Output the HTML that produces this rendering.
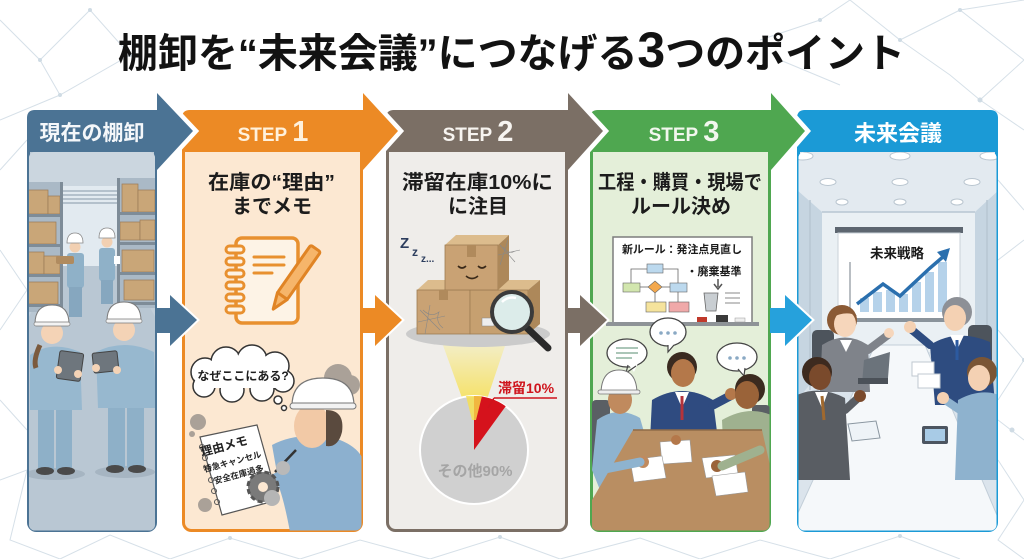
<!DOCTYPE html>
<html><head><meta charset="utf-8"><style>
html,body{margin:0;padding:0;background:#fff;width:1024px;height:559px;overflow:hidden}
svg{display:block}
text{font-family:"Liberation Sans","Noto Sans CJK JP",sans-serif}
</style></head><body>
<svg width="1024" height="559" viewBox="0 0 1024 559" xmlns="http://www.w3.org/2000/svg">
<defs>
<clipPath id="c0"><rect x="29" y="152" width="126" height="378.5" rx="6"/></clipPath>
<clipPath id="c1"><rect x="183.5" y="152" width="178" height="378.5" rx="6"/></clipPath>
<clipPath id="c2"><rect x="387.5" y="152" width="179" height="378.5" rx="6"/></clipPath>
<clipPath id="c3"><rect x="591.5" y="152" width="178" height="378.5" rx="6"/></clipPath>
<clipPath id="c4"><rect x="798.5" y="152" width="198" height="378.5" rx="6"/></clipPath>
<linearGradient id="cone" x1="0" y1="0" x2="0" y2="1"><stop offset="0" stop-color="#f3efcf"/><stop offset="1" stop-color="#f7dc35"/></linearGradient>
<linearGradient id="bg0" x1="0" y1="0" x2="0" y2="1"><stop offset="0" stop-color="#c7d3dd"/><stop offset="1" stop-color="#b9c8d4"/></linearGradient>
</defs>
<rect width="1024" height="559" fill="#fff"/>
<!-- background network -->
<g stroke="#d6e0e8" stroke-width="1" fill="none">
<path d="M0,20 L40,60 L90,10 L130,55 L60,95 L0,120"/>
<path d="M40,60 L60,95 M0,170 L27,140 M0,250 L27,290 L0,330 M0,400 L27,430 M0,480 L27,470 L10,540 L60,559"/>
<path d="M60,559 L110,535 L170,559 L230,538 L300,559 L360,540 L430,559 L500,537 L560,559 L640,538 L700,559 L760,540 L830,559 L900,536 L960,559"/>
<path d="M850,0 L900,40 L960,10 L1024,60 L980,100 L1024,130 M900,40 L950,75 L980,100 M1110,0 L1024,20 M960,10 L1024,0"/>
<path d="M998,180 L1024,210 M998,260 L1024,240 M998,330 L1024,360 L998,400 M998,460 L1024,500 L998,540 L1024,559 M998,420 L1024,440"/>
<path d="M760,40 L820,20 L850,0 M780,60 L840,85"/>
</g>
<g fill="#cfdbe4">
<circle cx="40" cy="60" r="2"/><circle cx="90" cy="10" r="2"/><circle cx="130" cy="55" r="2"/><circle cx="60" cy="95" r="2"/><circle cx="900" cy="40" r="2"/><circle cx="980" cy="100" r="2.5"/><circle cx="960" cy="10" r="2"/><circle cx="1024" cy="360" r="2"/><circle cx="500" cy="537" r="2"/><circle cx="900" cy="536" r="2"/><circle cx="230" cy="538" r="2"/><circle cx="820" cy="20" r="2"/><circle cx="1012" cy="430" r="2.5"/>
</g>

<!-- Title -->
<text x="118" y="67" font-size="40" font-weight="700" fill="#121212" textLength="787" lengthAdjust="spacing">棚卸を“未来会議”につなげる<tspan font-size="50">3</tspan>つのポイント</text>

<!-- ===== Panel 4 ===== -->
<rect x="798.5" y="111.5" width="198" height="419" rx="8" fill="#dfe7ee" stroke="#1b9ad6" stroke-width="3"/>
<path d="M797,152 V118 Q797,110 805,110 H990 Q998,110 998,118 V152 Z" fill="#1b9ad6"/>
<text x="898" y="141" text-anchor="middle" font-size="22" font-weight="700" fill="#fff">未来会議</text>
<g clip-path="url(#c4)">
<rect x="797" y="152" width="202" height="380" fill="#dbe4ec"/>
<polygon points="797,152 999,152 999,190 975,212 822,212 797,190" fill="#e3eaf0"/>
<polygon points="797,190 822,212 822,370 797,400" fill="#c6d5e1"/>
<polygon points="999,190 975,212 975,370 999,400" fill="#c6d5e1"/>
<rect x="822" y="212" width="153" height="140" fill="#eaf0f4"/>
<g stroke="#b7c6d2" stroke-width="1.5"><line x1="822" y1="212" x2="975" y2="212"/><line x1="810" y1="200" x2="810" y2="390"/><line x1="987" y1="200" x2="987" y2="390"/></g>
<g fill="#fff" stroke="#b9c5cf" stroke-width="1">
<ellipse cx="803" cy="156" rx="10" ry="4"/><ellipse cx="900" cy="156" rx="10" ry="4"/><ellipse cx="990" cy="156" rx="10" ry="4"/>
<ellipse cx="828" cy="182" rx="8" ry="3.5"/><ellipse cx="900" cy="182" rx="8" ry="3.5"/><ellipse cx="972" cy="182" rx="8" ry="3.5"/>
<ellipse cx="842" cy="202" rx="6" ry="3"/><ellipse cx="900" cy="202" rx="6" ry="3"/><ellipse cx="957" cy="202" rx="6" ry="3"/>
</g>
<rect x="835" y="227" width="128" height="6" fill="#5d6670"/>
<rect x="838" y="233" width="122" height="86" fill="#fff" stroke="#c9d2d9"/>
<rect x="835" y="318" width="128" height="4" fill="#8a939b"/>
<text x="897" y="258" text-anchor="middle" font-size="13.5" font-weight="700" fill="#1a1a1a">未来戦略</text>
<line x1="850" y1="262" x2="850" y2="312" stroke="#8a939b" stroke-width="1.2"/>
<g fill="#b5d2ea"><rect x="860" y="298" width="9" height="14"/><rect x="873" y="292" width="9" height="20"/><rect x="886" y="290" width="9" height="22"/><rect x="899" y="294" width="9" height="18"/><rect x="912" y="282" width="9" height="30"/><rect x="925" y="272" width="9" height="40"/><rect x="938" y="262" width="9" height="50"/></g>
<polyline points="857,304 883,284 900,296 930,268 944,256" fill="none" stroke="#2a6fae" stroke-width="3.5"/>
<polygon points="950,248 937,252 946,262" fill="#2a6fae"/>
<!-- table -->
<polygon points="875,345 925,345 999,520 999,532 797,532 797,515" fill="#f5f8fa" stroke="#c2ced8" stroke-width="1"/>
<!-- chairs -->
<rect x="812" y="330" width="22" height="40" rx="5" fill="#4d545c"/>
<rect x="968" y="325" width="24" height="40" rx="5" fill="#4d545c"/>
<!-- woman -->
<path d="M822,345 Q845,330 868,345 L870,392 L820,392 Z" fill="#7f838a"/>
<path d="M840,340 L846,352 L852,340 Z" fill="#fff"/>
<circle cx="842" cy="320" r="15" fill="#8b5a35"/>
<ellipse cx="845" cy="324" rx="11" ry="13" fill="#f6d6bb"/>
<path d="M831,315 Q843,300 857,316 Q846,310 831,318 Z" fill="#8b5a35"/>
<path d="M868,350 L888,335" stroke="#7f838a" stroke-width="8" stroke-linecap="round"/>
<circle cx="889" cy="333" r="5" fill="#f6d6bb"/>
<polygon points="864,360 890,352 888,378 862,384" fill="#6b737b"/>
<rect x="858" y="378" width="30" height="6" fill="#4b5158"/>
<!-- man top right -->
<path d="M930,345 Q957,328 990,342 L995,405 L935,405 Z" fill="#2e4c80"/>
<path d="M950,335 L957,350 L964,335 Z" fill="#fff"/><line x1="957" y1="340" x2="957" y2="360" stroke="#2c5aa0" stroke-width="3"/>
<circle cx="957" cy="312" r="15" fill="#8d9096"/>
<ellipse cx="955" cy="318" rx="11" ry="13" fill="#f4d1b3"/>
<path d="M930,345 L912,330" stroke="#2e4c80" stroke-width="8" stroke-linecap="round"/>
<circle cx="910" cy="327" r="6" fill="#f4d1b3"/>
<rect x="912" y="362" width="22" height="14" fill="#fff" stroke="#c0c8d0"/>
<rect x="918" y="374" width="22" height="14" fill="#fff" stroke="#c0c8d0"/>
<!-- man bottom left -->
<path d="M797,395 Q820,385 845,398 L850,480 L797,480 Z" fill="#595d63"/>
<path d="M815,392 L822,408 L828,392 Z" fill="#fff"/><line x1="822" y1="396" x2="824" y2="420" stroke="#a0692f" stroke-width="3"/>
<circle cx="817" cy="372" r="15" fill="#3d2a1f"/>
<ellipse cx="820" cy="377" rx="11" ry="13" fill="#7a4a2c"/>
<path d="M845,410 L858,398" stroke="#595d63" stroke-width="8" stroke-linecap="round"/>
<circle cx="860" cy="396" r="6" fill="#7a4a2c"/>
<polygon points="848,424 876,421 880,438 852,441" fill="#eef3f7" stroke="#8a96a0"/>
<!-- worker bottom right -->
<path d="M958,400 Q980,388 999,395 L999,480 L955,480 Z" fill="#8eb2ce"/>
<circle cx="982" cy="372" r="15" fill="#7a5535"/>
<ellipse cx="979" cy="378" rx="11" ry="13" fill="#f4d1b3"/>
<path d="M960,410 L945,400" stroke="#8eb2ce" stroke-width="8" stroke-linecap="round"/>
<circle cx="943" cy="398" r="6" fill="#f4d1b3"/>
<rect x="922" y="426" width="26" height="18" rx="2" fill="#4c5560"/><rect x="925" y="429" width="20" height="12" fill="#a8cbe6"/>
</g>

<!-- ===== Panel 3 ===== -->
<path d="M771,93 L805,131 L771,170 Z" fill="#fff" stroke="#fff" stroke-width="9"/>
<rect x="591.5" y="111.5" width="178" height="419" rx="8" fill="#e4efd9" stroke="#4fa750" stroke-width="3"/>
<path d="M590,152 V118 Q590,110 598,110 H771 V93 L805,131 L771,170 V152 Z" fill="#4fa750"/>
<text x="684" y="141" text-anchor="middle" fill="#f2f7ee" font-weight="700"><tspan font-size="19">STEP</tspan><tspan font-size="29" dx="5">3</tspan></text>
<text x="598" y="189" font-size="20" font-weight="700" fill="#1c1c1c" textLength="164" lengthAdjust="spacingAndGlyphs">工程・購買・現場で</text>
<text x="681" y="213" text-anchor="middle" font-size="20" font-weight="700" fill="#1c1c1c">ルール決め</text>
<g clip-path="url(#c3)">
<rect x="613" y="237" width="139" height="86" fill="#fff" stroke="#7d7d7d" stroke-width="1.5"/>
<rect x="606" y="322" width="153" height="4" fill="#8e9397"/>
<rect x="697" y="317" width="10" height="5" fill="#c0392b"/><rect x="716" y="315" width="12" height="7" fill="#3a3a3a"/><rect x="735" y="318" width="10" height="4" fill="#eee" stroke="#999" stroke-width=".5"/>
<text x="622" y="253" font-size="11" font-weight="700" fill="#1a1a1a" textLength="120" lengthAdjust="spacingAndGlyphs">新ルール：発注点見直し</text>
<text x="714" y="275" text-anchor="middle" font-size="11" font-weight="700" fill="#1a1a1a">・廃棄基準</text>
<g stroke="#666" stroke-width=".8" fill="none"><polyline points="647,269 631,269 631,283"/><polyline points="663,269 678,269 678,283"/><line x1="640" y1="287" x2="649" y2="287"/><line x1="661" y1="287" x2="670" y2="287"/><line x1="655" y1="293" x2="655" y2="302"/><line x1="678" y1="291" x2="678" y2="302"/></g>
<rect x="647" y="264" width="16" height="9" fill="#bcd9ee" stroke="#666" stroke-width=".6"/>
<rect x="623" y="283" width="17" height="9" fill="#d2e6ae" stroke="#666" stroke-width=".6"/>
<polygon points="655,281 662,287 655,293 648,287" fill="#f3a84d" stroke="#666" stroke-width=".6"/>
<rect x="670" y="283" width="17" height="9" fill="#bcd9ee" stroke="#666" stroke-width=".6"/>
<rect x="646" y="302" width="20" height="10" fill="#f5e39c" stroke="#666" stroke-width=".6"/>
<rect x="669" y="302" width="20" height="10" fill="#f0a9a9" stroke="#666" stroke-width=".6"/>
<path d="M718,279 V287 M714,284 L718,289 L722,284" stroke="#555" stroke-width="1.5" fill="none"/>
<path d="M704,293 h14 l-2,18 h-10 Z" fill="#c9ced2" stroke="#666" stroke-width=".8"/>
<g stroke="#888" stroke-width="1"><line x1="725" y1="293" x2="740" y2="293"/><line x1="725" y1="298" x2="740" y2="298"/><line x1="725" y1="303" x2="740" y2="303"/></g>
<!-- chairs -->
<rect x="592" y="400" width="18" height="70" rx="4" fill="#5a5f64"/>
<rect x="752" y="405" width="18" height="70" rx="4" fill="#5a5f64"/>
<!-- bubbles -->
<g fill="#fff" stroke="#444" stroke-width="1.3">
<ellipse cx="627" cy="353" rx="20" ry="14"/><ellipse cx="668" cy="332" rx="18" ry="14"/><ellipse cx="737" cy="357" rx="20" ry="14"/>
</g>
<g fill="#fff"><polygon points="628,364 634,372 638,363"/><polygon points="668,343 668,353 675,343"/><polygon points="738,368 743,376 746,367"/></g>
<path d="M628,365 L626,373 L636,366 M668,345 L668,352 L674,345 M738,369 L744,376 L745,368" stroke="#444" stroke-width="1.2" fill="none"/>
<g stroke="#8fb4a0" stroke-width="1.5"><line x1="616" y1="348" x2="638" y2="348"/><line x1="616" y1="353" x2="638" y2="353"/><line x1="616" y1="358" x2="632" y2="358"/></g>
<g fill="#8aa9c4"><circle cx="661" cy="333" r="1.8"/><circle cx="668" cy="333" r="1.8"/><circle cx="675" cy="333" r="1.8"/><circle cx="730" cy="358" r="1.8"/><circle cx="737" cy="358" r="1.8"/><circle cx="744" cy="358" r="1.8"/></g>
<!-- middle man -->
<path d="M652,400 Q682,382 713,400 L718,440 L650,440 Z" fill="#2f4b80"/>
<path d="M675,392 L682,408 L689,392 Z" fill="#fff"/><line x1="682" y1="396" x2="682" y2="420" stroke="#b5333a" stroke-width="3"/>
<circle cx="682" cy="367" r="15" fill="#3a2a20"/>
<ellipse cx="683" cy="373" rx="12" ry="14" fill="#b4784a"/>
<path d="M713,405 L730,396" stroke="#2f4b80" stroke-width="9" stroke-linecap="round"/>
<circle cx="731" cy="394" r="6" fill="#b4784a"/>
<!-- left worker -->
<path d="M597,420 Q618,405 640,418 L655,470 L600,490 L592,470 Z" fill="#8eb3cf"/>
<ellipse cx="620" cy="400" rx="12" ry="14" fill="#c08a5e"/>
<path d="M601,392 Q602,370 619,370 Q636,370 637,392 Z" fill="#fff" stroke="#777" stroke-width="1"/>
<rect x="598" y="390" width="42" height="4" rx="2" fill="#eee" stroke="#777" stroke-width=".8"/>
<!-- right man -->
<path d="M722,420 Q748,405 771,415 L771,490 L725,490 Z" fill="#9fb18f"/>
<circle cx="750" cy="389" r="15" fill="#3b2a1f"/>
<ellipse cx="747" cy="395" rx="12" ry="14" fill="#9a6339"/>
<!-- table -->
<polygon points="633,430 762,430 771,470 771,532 592,532 592,500" fill="#b98e62"/>
<line x1="633" y1="430" x2="762" y2="430" stroke="#8f6b47" stroke-width="1.5"/>
<polygon points="660,442 690,440 692,462 662,464" fill="#fff" stroke="#999" stroke-width=".6"/>
<polygon points="630,460 662,456 666,478 634,482" fill="#fff" stroke="#999" stroke-width=".6"/>
<polygon points="702,458 735,455 738,474 706,478" fill="#fff" stroke="#999" stroke-width=".6"/>
<polygon points="712,476 745,472 748,492 716,496" fill="#fff" stroke="#999" stroke-width=".6"/>
<circle cx="643" cy="462" r="6" fill="#c08a5e"/><circle cx="717" cy="466" r="6" fill="#9a6339"/><circle cx="676" cy="440" r="5" fill="#b4784a"/>
<path d="M600,470 L640,462" stroke="#8eb3cf" stroke-width="9" stroke-linecap="round"/>
<path d="M760,450 L722,466" stroke="#9fb18f" stroke-width="9" stroke-linecap="round"/>
</g>

<!-- ===== Panel 2 ===== -->
<path d="M568,93 L603,131 L568,170 Z" fill="#fff" stroke="#fff" stroke-width="9"/>
<rect x="387.5" y="111.5" width="179" height="419" rx="8" fill="#efedea" stroke="#7b6f65" stroke-width="3"/>
<path d="M386,152 V118 Q386,110 394,110 H568 V93 L603,131 L568,170 V152 Z" fill="#7b6f65"/>
<text x="478" y="141" text-anchor="middle" fill="#f7f4f0" font-weight="700"><tspan font-size="19">STEP</tspan><tspan font-size="29" dx="5">2</tspan></text>
<text x="402" y="189" font-size="20" font-weight="700" fill="#1c1c1c" textLength="151" lengthAdjust="spacingAndGlyphs">滞留在庫10%に</text>
<text x="478" y="213" text-anchor="middle" font-size="20" font-weight="700" fill="#1c1c1c">に注目</text>
<g clip-path="url(#c2)">
<polygon points="440,337 508,337 480,420 470,420" fill="url(#cone)" opacity=".9"/>
<ellipse cx="478" cy="334" rx="72" ry="13" fill="#cbcbcb"/>
<!-- boxes -->
<polygon points="417,290 428,280 482,280 470,290" fill="#dcbc8d"/>
<rect x="417" y="290" width="53" height="44" fill="#c9a274" stroke="#9d7c53" stroke-width=".8"/>
<polygon points="470,290 480,280 540,280 528,290" fill="#dcbc8d"/>
<rect x="470" y="290" width="58" height="44" fill="#c6a070" stroke="#9d7c53" stroke-width=".8"/>
<polygon points="528,290 540,280 540,324 528,334" fill="#ad885a"/>
<polygon points="445,245 456,235 509,235 498,245" fill="#dcbc8d"/>
<rect x="445" y="245" width="53" height="45" fill="#c9a274" stroke="#9d7c53" stroke-width=".8"/>
<polygon points="498,245 509,235 509,280 498,290" fill="#ad885a"/>
<rect x="467" y="245" width="9" height="12" fill="#b08a5c"/>
<rect x="439" y="290" width="9" height="10" fill="#b08a5c"/>
<path d="M458,266 q4,4 8,0 M478,266 q4,4 8,0 M466,276 q6,5 12,0" stroke="#3a2a1a" stroke-width="1.6" fill="none"/>
<g stroke="#888" stroke-width=".6" fill="none">
<path d="M420,310 L440,330 M430,305 L425,334 M418,322 L445,316 M423,310 q8,8 16,2 q-4,10 4,16"/>
<path d="M500,245 L515,262 M508,240 L500,265 M498,255 L520,250 M503,247 q6,8 12,4"/>
</g>
<rect x="482" y="318" width="12" height="8" fill="#eee" stroke="#888" stroke-width=".5"/>
<line x1="526" y1="327" x2="548" y2="348" stroke="#2a2a2a" stroke-width="7" stroke-linecap="round"/>
<circle cx="512" cy="312" r="20" fill="#dcecea" stroke="#3b3b3b" stroke-width="4"/>
<path d="M502,302 q6,-6 14,-4" stroke="#fff" stroke-width="2.5" fill="none"/>
<text x="400" y="248" font-size="15" font-weight="700" fill="#2d3e5e">Z</text>
<text x="412" y="256" font-size="12" font-weight="700" fill="#2d3e5e">z</text>
<text x="421" y="262" font-size="10" font-weight="700" fill="#2d3e5e">z...</text>
<!-- pie -->
<circle cx="474" cy="450" r="54" fill="#d0d0d0" stroke="#fff" stroke-width="2"/>
<path d="M474,450 L474,396 A54,54 0 0,1 505.7,406.3 Z" fill="#d5121c"/>
<polygon points="466,396 482,396 476,420 472,420" fill="#f7e04a" opacity=".8"/>
<text x="475" y="476" text-anchor="middle" font-size="15" font-weight="700" fill="#a5a5a5">その他90%</text>
<text x="498" y="393" font-size="14" font-weight="700" fill="#cf131c">滞留10%</text>
<path d="M494,398 H557 M494,398 L488,408" stroke="#cf131c" stroke-width="1.5" fill="none"/>
</g>

<!-- ===== Panel 1 ===== -->
<path d="M363,93 L398,131 L363,170 Z" fill="#fff" stroke="#fff" stroke-width="9"/>
<rect x="183.5" y="111.5" width="178" height="419" rx="8" fill="#fce8d2" stroke="#ec8a25" stroke-width="3"/>
<path d="M182,152 V118 Q182,110 190,110 H363 V93 L398,131 L363,170 V152 Z" fill="#ec8a25"/>
<text x="273" y="141" text-anchor="middle" fill="#fff1dc" font-weight="700"><tspan font-size="19">STEP</tspan><tspan font-size="29" dx="5">1</tspan></text>
<text x="208" y="189" font-size="20" font-weight="700" fill="#1c1c1c" textLength="127" lengthAdjust="spacingAndGlyphs">在庫の“理由”</text>
<text x="272" y="213" text-anchor="middle" font-size="20" font-weight="700" fill="#1c1c1c">までメモ</text>
<g clip-path="url(#c1)">
<!-- notebook icon -->
<rect x="236" y="238" width="62" height="85" rx="6" fill="#fdf3e6" stroke="#e8902f" stroke-width="3.5"/>
<g fill="#fdf3e6" stroke="#e8902f" stroke-width="3">
<rect x="226" y="246" width="18" height="7" rx="3.5"/><rect x="226" y="258" width="18" height="7" rx="3.5"/><rect x="226" y="270" width="18" height="7" rx="3.5"/><rect x="226" y="282" width="18" height="7" rx="3.5"/><rect x="226" y="294" width="18" height="7" rx="3.5"/><rect x="226" y="306" width="18" height="7" rx="3.5"/>
</g>
<g stroke="#e8902f" stroke-width="3" stroke-linecap="round"><line x1="254" y1="257" x2="284" y2="257"/><line x1="254" y1="265" x2="284" y2="265"/><line x1="254" y1="273" x2="272" y2="273"/></g>
<g transform="rotate(35 295 278)"><rect x="289" y="242" width="12" height="58" rx="2" fill="#f6b56a" stroke="#e08425" stroke-width="3"/><polygon points="289,300 301,300 295,316" fill="#f6b56a" stroke="#e08425" stroke-width="3" stroke-linejoin="round"/></g>
<!-- dust -->
<g fill="#8f8a85" opacity=".75"><circle cx="338" cy="378" r="14"/><circle cx="350" cy="385" r="10"/><circle cx="198" cy="422" r="8"/><circle cx="192" cy="434" r="3"/><circle cx="205" cy="505" r="7"/><circle cx="355" cy="478" r="10"/></g>
<!-- thought bubble -->
<g fill="#fff" stroke="#333" stroke-width="1.5">
<circle cx="205" cy="372" r="14"/><circle cx="226" cy="362" r="15"/><circle cx="252" cy="360" r="15"/><circle cx="275" cy="366" r="14"/><circle cx="283" cy="381" r="11"/><circle cx="262" cy="389" r="12"/><circle cx="232" cy="390" r="12"/><circle cx="204" cy="386" r="11"/>
<circle cx="278" cy="400" r="4"/><circle cx="284" cy="408" r="2.5"/>
</g>
<g fill="#fff"><circle cx="205" cy="372" r="13"/><circle cx="226" cy="362" r="14"/><circle cx="252" cy="360" r="14"/><circle cx="275" cy="366" r="13"/><circle cx="283" cy="381" r="10"/><circle cx="262" cy="389" r="11"/><circle cx="232" cy="390" r="11"/><circle cx="204" cy="386" r="10"/><rect x="205" y="362" width="75" height="26"/></g>
<text x="243" y="380" text-anchor="middle" font-size="12" font-weight="700" fill="#1e1e1e">なぜここにある?</text>
<!-- worker body -->
<path d="M272,445 Q300,430 340,440 Q365,450 365,470 L365,532 L290,532 Q285,505 280,490 Z" fill="#8cb0cf"/>
<path d="M300,470 L272,482" stroke="#8cb0cf" stroke-width="14" stroke-linecap="round"/>
<ellipse cx="312" cy="426" rx="18" ry="22" fill="#f2c9a6"/>
<path d="M326,410 Q345,410 342,432 Q338,448 326,446 Z" fill="#5a4a3e"/>
<path d="M292,406 Q292,378 323,378 Q354,378 354,406 Z" fill="#fff" stroke="#777" stroke-width="1.2"/>
<rect x="290" y="403" width="66" height="6" rx="3" fill="#f2f2f2" stroke="#777" stroke-width="1"/>
<!-- memo pad -->
<polygon points="200,437 257,425 278,500 222,515" fill="#fff" stroke="#555" stroke-width="1.2"/>
<g fill="none" stroke="#555" stroke-width="1"><circle cx="202" cy="447" r="2.5"/><circle cx="205" cy="458" r="2.5"/><circle cx="208" cy="469" r="2.5"/><circle cx="211" cy="480" r="2.5"/><circle cx="214" cy="491" r="2.5"/><circle cx="217" cy="502" r="2.5"/></g>
<g transform="rotate(-15 235 460)" font-weight="700" fill="#222">
<text x="228" y="448" text-anchor="middle" font-size="12">理由メモ</text>
<text x="232" y="464" text-anchor="middle" font-size="8.5">特急キャンセル</text>
<text x="235" y="478" text-anchor="middle" font-size="8.5">安全在庫過多</text>
</g>
<line x1="275" y1="472" x2="296" y2="450" stroke="#333" stroke-width="2.5"/>
<circle cx="283" cy="468" r="7" fill="#b9b9b9"/>
<circle cx="263" cy="487" r="15" fill="#7a7a7a" stroke="#555" stroke-width="3" stroke-dasharray="5 3"/>
<circle cx="263" cy="487" r="5" fill="#fce8d2"/>
<circle cx="272" cy="498" r="8" fill="#b5b5b5"/>
</g>

<!-- ===== Panel 0 ===== -->
<path d="M157,93 L193,131 L157,170 Z" fill="#fff" stroke="#fff" stroke-width="9"/>
<rect x="28.5" y="111.5" width="127" height="419" rx="8" fill="#bccad6" stroke="#4b7394" stroke-width="3"/>
<path d="M27,152 V118 Q27,110 35,110 H157 V93 L193,131 L157,170 V152 Z" fill="#4b7394"/>
<text x="92" y="140" text-anchor="middle" font-size="21" font-weight="700" fill="#f4f7fa">現在の棚卸</text>
<g clip-path="url(#c0)">
<rect x="27" y="150" width="132" height="384" fill="url(#bg0)"/>
<rect x="27" y="150" width="132" height="38" fill="#cbd6df"/>
<rect x="58" y="186" width="68" height="80" fill="#e2eaf0"/>
<g stroke="#a5b3bf" stroke-width="1.5"><line x1="60" y1="191" x2="124" y2="191"/><line x1="60" y1="195" x2="124" y2="195"/><line x1="60" y1="199" x2="124" y2="199"/><line x1="60" y1="203" x2="124" y2="203"/></g>
<polygon points="58,266 126,266 157,320 157,534 27,534 27,320" fill="#b9c7d3"/>
<!-- left shelves -->
<rect x="27" y="182" width="36" height="130" fill="#aab9c6"/>
<g fill="#c9a678" stroke="#9a7b55" stroke-width=".7">
<rect x="28" y="190" width="20" height="24"/><rect x="48" y="196" width="12" height="18"/><rect x="28" y="222" width="28" height="22"/><rect x="28" y="252" width="16" height="22"/><rect x="44" y="256" width="16" height="18"/><rect x="28" y="282" width="30" height="22"/>
</g>
<g fill="#7e8c98"><rect x="27" y="214" width="36" height="3"/><rect x="27" y="244" width="36" height="3"/><rect x="27" y="274" width="36" height="3"/><rect x="27" y="304" width="36" height="3"/><rect x="60" y="182" width="3" height="130"/></g>
<!-- right shelves -->
<rect x="117" y="178" width="40" height="130" fill="#aab9c6"/>
<g fill="#c9a678" stroke="#9a7b55" stroke-width=".7">
<rect x="122" y="184" width="16" height="28"/><rect x="138" y="190" width="17" height="22"/><rect x="120" y="222" width="20" height="18"/><rect x="140" y="220" width="15" height="20"/><rect x="122" y="250" width="32" height="22"/><rect x="124" y="280" width="30" height="20"/>
</g>
<g fill="#7e8c98"><rect x="117" y="212" width="40" height="3"/><rect x="117" y="242" width="40" height="3"/><rect x="117" y="272" width="40" height="3"/><rect x="117" y="302" width="40" height="3"/><rect x="117" y="178" width="3" height="130"/></g>
<!-- background workers -->
<rect x="67" y="253" width="17" height="35" rx="3" fill="#8fb1c8"/><rect x="69" y="287" width="13" height="30" fill="#86a7bf"/>
<circle cx="75" cy="247" r="5.5" fill="#f2d0b2"/><path d="M67,243 Q67,233 75,233 Q83,233 83,243 Z" fill="#fff" stroke="#888" stroke-width=".8"/>
<rect x="56" y="256" width="18" height="8" rx="2" fill="#b08b5f"/>
<rect x="99" y="248" width="16" height="33" rx="3" fill="#8fb1c8"/><rect x="101" y="280" width="12" height="24" fill="#86a7bf"/>
<circle cx="107" cy="242" r="5.5" fill="#f2d0b2"/><path d="M99,238 Q99,228 107,228 Q115,228 115,238 Z" fill="#fff" stroke="#888" stroke-width=".8"/>
<rect x="114" y="256" width="6" height="8" fill="#fff"/>
<!-- foreground left worker -->
<ellipse cx="55" cy="474" rx="30" ry="6" fill="#a6b5c2"/>
<rect x="38" y="405" width="16" height="65" fill="#8eb0c8"/><rect x="56" y="405" width="16" height="65" fill="#8eb0c8"/>
<ellipse cx="45" cy="471" rx="9" ry="4" fill="#4a4a4a"/><ellipse cx="66" cy="471" rx="9" ry="4" fill="#4a4a4a"/>
<path d="M30,355 Q52,340 80,352 L82,410 L30,410 Z" fill="#97b8cf"/>
<path d="M40,345 Q33,360 36,368" stroke="#7b5a3d" stroke-width="5" fill="none"/>
<circle cx="52" cy="333" r="11" fill="#f4d3b6"/>
<path d="M35,324 Q35,305 52,305 Q69,305 69,324 Z" fill="#fff" stroke="#7a7a7a" stroke-width="1"/>
<rect x="34" y="322" width="36" height="4" rx="2" fill="#f3f3f3" stroke="#7a7a7a" stroke-width=".7"/>
<rect x="58" y="352" width="24" height="28" rx="2" fill="#6e767d" stroke="#444" stroke-width="1" transform="rotate(8 70 366)"/>
<circle cx="58" cy="370" r="4" fill="#f4d3b6"/><circle cx="78" cy="374" r="4" fill="#f4d3b6"/>
<!-- foreground right worker -->
<ellipse cx="125" cy="472" rx="30" ry="6" fill="#a6b5c2"/>
<rect x="108" y="403" width="17" height="65" fill="#8eb0c8"/><rect x="127" y="403" width="17" height="65" fill="#8eb0c8"/>
<ellipse cx="115" cy="469" rx="9" ry="4" fill="#4a4a4a"/><ellipse cx="137" cy="469" rx="9" ry="4" fill="#4a4a4a"/>
<path d="M96,352 Q124,338 154,352 L156,408 L98,408 Z" fill="#97b8cf"/>
<circle cx="124" cy="330" r="11" fill="#f4d3b6"/>
<path d="M107,321 Q107,302 124,302 Q141,302 141,321 Z" fill="#fff" stroke="#7a7a7a" stroke-width="1"/>
<rect x="106" y="319" width="36" height="4" rx="2" fill="#f3f3f3" stroke="#7a7a7a" stroke-width=".7"/>
<rect x="93" y="352" width="25" height="20" rx="2" fill="#6e767d" stroke="#444" stroke-width="1" transform="rotate(-6 105 362)"/>
<circle cx="117" cy="370" r="4" fill="#f4d3b6"/><circle cx="96" cy="368" r="4" fill="#f4d3b6"/>
</g>

<!-- ===== Mid arrows ===== -->
<g>
<polygon points="170,295 197,320 170,346" fill="#4b7394" stroke="#fff" stroke-width="4" paint-order="stroke"/>
<rect x="156" y="308" width="16" height="25" fill="#4b7394"/>
<polygon points="375,295 402,320 375,346" fill="#ec8a25" stroke="#fff" stroke-width="4" paint-order="stroke"/>
<rect x="362" y="308" width="15" height="25" fill="#ec8a25"/>
<polygon points="580,295 607,320 580,346" fill="#7b6f65" stroke="#fff" stroke-width="4" paint-order="stroke"/>
<rect x="567" y="308" width="15" height="25" fill="#7b6f65"/>
<polygon points="785,295 812,320 785,346" fill="#26a1dc" stroke="#fff" stroke-width="4" paint-order="stroke"/>
<rect x="770" y="308" width="17" height="25" fill="#26a1dc"/>
</g>
</svg>
</body></html>
